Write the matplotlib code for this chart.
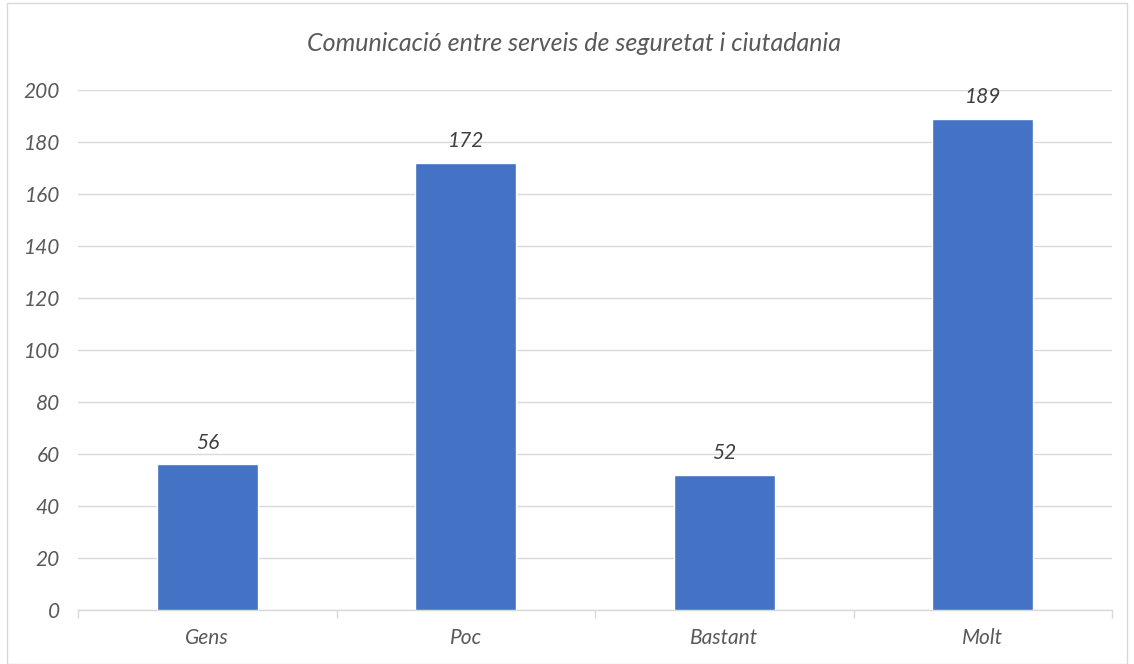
import matplotlib.pyplot as plt
from matplotlib.patches import Rectangle

categories = ["Gens", "Poc", "Bastant", "Molt"]
values = [56, 172, 52, 189]
title = "Comunicació entre serveis de seguretat i ciutadania"

plt.rcParams['font.family'] = ['Lato', 'DejaVu Sans']
text_color = "#595959"
grid_color = "#d9d9d9"

fig = plt.figure(figsize=(11.34, 6.64), dpi=100)
ax = fig.add_axes([0.0688, 0.0813, 0.9118, 0.7832])

x = range(len(categories))
ax.bar(x, values, width=0.39, color="#4472c4", edgecolor="white", linewidth=1, zorder=3)

for i, v in enumerate(values):
    ax.text(i, v + 4.5, str(v), ha="center", va="bottom", fontsize=15,
            style="italic", color="#404040", zorder=4)

ax.set_xlim(-0.5, len(categories) - 0.5)
ax.set_ylim(0, 200)
ax.set_yticks(range(0, 201, 20))
ax.yaxis.grid(True, color=grid_color, linewidth=1, zorder=0)
ax.set_axisbelow(True)

ax.set_xticks(list(x))
ax.set_xticklabels(categories)
ax.set_xticks([i + 0.5 for i in range(-1, len(categories))], minor=True)
ax.tick_params(axis="x", which="major", length=0, pad=13)
ax.tick_params(axis="x", which="minor", length=6, color=grid_color, width=1)
ax.tick_params(axis="y", length=0, pad=13)
for lab in ax.get_xticklabels() + ax.get_yticklabels():
    lab.set_fontsize(15)
    lab.set_style("italic")
    lab.set_color(text_color)

for s in ["top", "right", "left"]:
    ax.spines[s].set_visible(False)
ax.spines["bottom"].set_color(grid_color)
ax.spines["bottom"].set_linewidth(1)

fig.text(0.506, 0.934, title, ha="center", va="center", fontsize=18,
         style="italic", color=text_color)

fig.patches.append(Rectangle((0.006, 0.0), 0.988, 0.995, transform=fig.transFigure,
                             fill=False, edgecolor="#d9d9d9", linewidth=1))

fig.savefig("out.png", dpi=100)
